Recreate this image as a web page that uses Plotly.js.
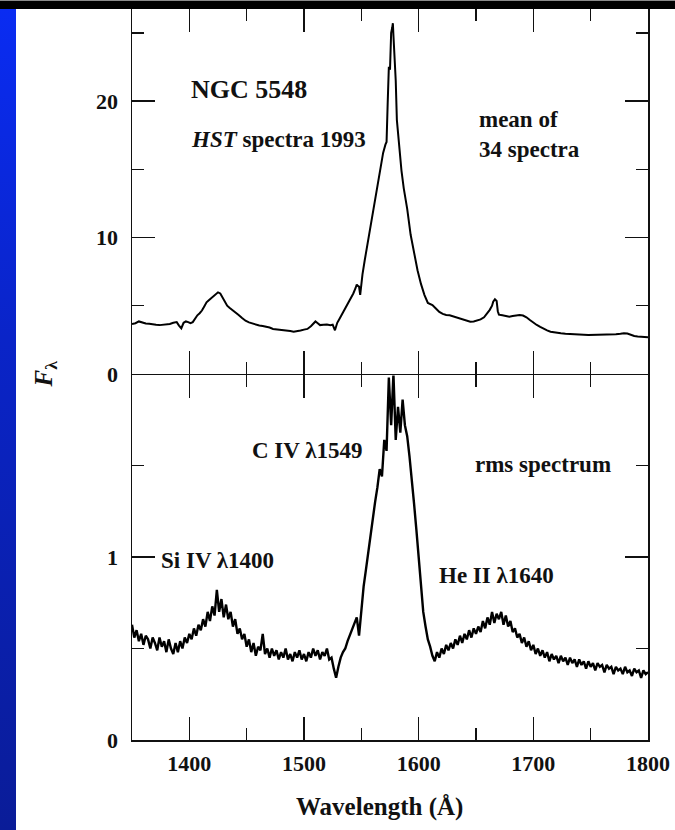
<!DOCTYPE html>
<html>
<head>
<meta charset="utf-8">
<script src="https://cdn.plot.ly/plotly-3.0.1.min.js"></script>
<style>
  html, body { margin: 0; padding: 0; background: #ffffff; }
  #wrap { position: relative; width: 675px; height: 830px; overflow: hidden; }
  #chart { position: absolute; left: 0; top: 0; width: 675px; height: 830px; }
  #topbar { position: absolute; left: 0; top: 0; width: 675px; height: 9px;
            background: #000; border-top: 1px solid #8a8a8a; box-sizing: border-box; z-index: 5; }
  #sidebar { position: absolute; left: 0; top: 9px; width: 16px; height: 821px;
             background: linear-gradient(to bottom, #0a2cf2 0%, #0a24c8 40%, #0a1c98 100%); z-index: 5; }
</style>
</head>
<body>
<div id="wrap">
  <div id="chart"></div>
  <div id="topbar"></div>
  <div id="sidebar"></div>
</div>
<script>
// NGC 5548, HST 1993: mean of 34 spectra (upper panel)
const meanWave = [1350,1353,1356,1359,1362,1365,1368,1371,1374,1377,1380,1383,1386,1389,1391,1393,1395,1397,1399,1401,
  1403,1405,1407,1409,1411,1413,1415,1417,1419,1421,1423,1425,1427,1429,1431,1433,1435,1437,1440,1443,
  1446,1449,1452,1455,1458,1461,1464,1467,1470,1473,1476,1479,1482,1485,1488,1491,1494,1497,1500,1503,
  1506,1508,1510,1512,1514,1517,1520,1523,1525,1527,1529,1531,1533,1535,1537,1539,1541,1543,1545,1546,
  1547,1548,1549,1550,1551,1553,1555,1557,1559,1561,1563,1565,1567,1569,1571,1572,1573,1574,1575,1576,
  1577,1577.5,1578,1579,1580,1581,1583,1585,1587,1590,1593,1596,1599,1602,1605,1608,1610,1612,1615,1618,
  1621,1624,1627,1630,1633,1636,1639,1642,1645,1648,1651,1654,1657,1660,1662,1664,1665,1666.5,1668,1669,
  1670,1673,1676,1679,1682,1685,1688,1691,1694,1697,1700,1703,1706,1709,1712,1715,1718,1721,1724,1728,
  1732,1736,1740,1744,1748,1752,1756,1760,1764,1768,1772,1776,1779,1782,1785,1788,1791,1794,1797,1800];
const meanFlux = [3.66,3.72,3.85,3.75,3.70,3.68,3.62,3.60,3.58,3.60,3.62,3.66,3.75,3.80,3.55,3.35,3.75,3.85,3.80,3.72,
  3.80,4.05,4.30,4.45,4.65,4.95,5.25,5.40,5.55,5.65,5.80,5.98,5.90,5.60,5.25,5.00,4.85,4.70,4.50,4.32,
  4.10,3.90,3.78,3.70,3.62,3.55,3.52,3.48,3.40,3.30,3.28,3.25,3.22,3.20,3.15,3.10,3.12,3.18,3.25,3.30,
  3.50,3.70,3.85,3.72,3.58,3.60,3.62,3.58,3.62,3.20,3.75,4.05,4.35,4.65,4.95,5.25,5.60,5.90,6.30,6.55,
  6.45,6.40,5.80,6.60,7.30,8.35,9.30,10.3,11.3,12.3,13.2,14.2,15.2,16.2,16.8,17.0,19.9,22.5,22.3,25.0,
  25.4,25.7,24.8,23.5,21.5,18.6,16.6,14.9,13.6,12.1,10.2,8.9,7.6,6.6,5.8,5.2,5.15,5.05,4.80,4.55,
  4.40,4.32,4.30,4.22,4.18,4.10,4.00,3.90,3.83,3.85,3.92,4.00,4.15,4.45,4.70,5.00,5.30,5.47,5.35,4.60,
  4.35,4.30,4.25,4.20,4.25,4.30,4.32,4.28,4.15,3.95,3.75,3.59,3.45,3.30,3.20,3.10,3.05,3.00,2.98,2.95,
  2.92,2.90,2.87,2.88,2.86,2.87,2.85,2.88,2.86,2.90,2.92,2.95,2.99,2.97,2.85,2.78,2.75,2.72,2.70,2.69];

// rms spectrum (lower panel), 2 Å sampling
const rmsWave = [
  1350,1352,1354,1356,1358,1360,1362,1364,1366,1368,
  1370,1372,1374,1376,1378,1380,1382,1384,1386,1388,
  1390,1392,1394,1396,1398,1400,1402,1404,1406,1408,
  1410,1412,1414,1416,1418,1420,1422,1424,1426,1428,
  1430,1432,1434,1436,1438,1440,1442,1444,1446,1448,
  1450,1452,1454,1456,1458,1460,1462,1464,1466,1468,
  1470,1472,1474,1476,1478,1480,1482,1484,1486,1488,
  1490,1492,1494,1496,1498,1500,1502,1504,1506,1508,
  1510,1512,1514,1516,1518,1520,1522,1524,1526,1528,
  1530,1532,1534,1536,1538,1540,1542,1544,1546,1548,
  1550,1552,1554,1556,1558,1560,1562,1564,1566,1568,
  1570,1572,1574,1576,1578,1580,1582,1584,1586,1588,
  1590,1592,1594,1596,1598,1600,1602,1604,1606,1608,
  1610,1612,1614,1616,1618,1620,1622,1624,1626,1628,
  1630,1632,1634,1636,1638,1640,1642,1644,1646,1648,
  1650,1652,1654,1656,1658,1660,1662,1664,1666,1668,
  1670,1672,1674,1676,1678,1680,1682,1684,1686,1688,
  1690,1692,1694,1696,1698,1700,1702,1704,1706,1708,
  1710,1712,1714,1716,1718,1720,1722,1724,1726,1728,
  1730,1732,1734,1736,1738,1740,1742,1744,1746,1748,
  1750,1752,1754,1756,1758,1760,1762,1764,1766,1768,
  1770,1772,1774,1776,1778,1780,1782,1784,1786,1788,
  1790,1792,1794,1796,1798,1800];
const rmsFlux = [
  0.63,0.56,0.60,0.54,0.58,0.52,0.57,0.55,0.50,0.56,
  0.53,0.49,0.56,0.51,0.54,0.48,0.55,0.50,0.47,0.53,
  0.48,0.54,0.50,0.56,0.53,0.58,0.55,0.61,0.57,0.63,
  0.60,0.66,0.62,0.70,0.65,0.73,0.68,0.82,0.70,0.77,
  0.67,0.74,0.66,0.70,0.62,0.66,0.58,0.61,0.55,0.58,
  0.51,0.55,0.48,0.53,0.46,0.51,0.49,0.58,0.47,0.50,
  0.45,0.50,0.46,0.49,0.44,0.48,0.45,0.50,0.44,0.47,
  0.43,0.48,0.45,0.49,0.44,0.47,0.43,0.48,0.45,0.50,
  0.46,0.49,0.44,0.48,0.46,0.50,0.44,0.45,0.39,0.34,
  0.40,0.45,0.48,0.50,0.54,0.57,0.60,0.63,0.67,0.57,
  0.72,0.84,0.93,1.03,1.12,1.22,1.30,1.38,1.48,1.44,
  1.64,1.58,1.98,1.72,2.00,1.64,1.82,1.68,1.86,1.72,
  1.66,1.55,1.43,1.29,1.15,0.99,0.85,0.70,0.62,0.55,
  0.51,0.46,0.43,0.48,0.45,0.50,0.47,0.52,0.49,0.53,
  0.50,0.55,0.52,0.57,0.53,0.58,0.55,0.60,0.56,0.61,
  0.58,0.62,0.59,0.65,0.61,0.67,0.63,0.70,0.64,0.69,
  0.66,0.70,0.63,0.68,0.62,0.65,0.59,0.61,0.56,0.58,
  0.53,0.56,0.51,0.54,0.49,0.52,0.47,0.50,0.46,0.49,
  0.45,0.48,0.43,0.47,0.44,0.46,0.42,0.46,0.43,0.45,
  0.41,0.45,0.42,0.44,0.40,0.44,0.41,0.43,0.39,0.43,
  0.40,0.42,0.38,0.42,0.40,0.41,0.37,0.41,0.39,0.40,
  0.36,0.40,0.38,0.39,0.36,0.40,0.37,0.38,0.35,0.39,
  0.37,0.38,0.34,0.38,0.36,0.37];

// axis ticks
const waveTicks = [1400, 1500, 1600, 1700, 1800];
const waveMinor = [1450, 1550, 1650, 1750];
const meanTicks = [0, 10, 20];
const meanMinor = [5, 15, 25];
const rmsTicks = [0, 1];
const rmsMinor = [0.5, 1.5];

const serif = 'Liberation Serif, Times New Roman, serif';
const ink = '#111111';

function tickFont(size) { return {family: serif, size: size, color: ink, weight: 'bold'}; }

function axisBase(tv, mv) {
  return {
    tickmode: 'array', tickvals: tv,
    ticks: 'inside', ticklen: 23, tickwidth: 1.5, tickcolor: ink,
    minor: {tickmode: 'array', tickvals: mv, ticks: 'inside', ticklen: 12, tickwidth: 1.5, tickcolor: ink, showgrid: false},
    showline: true, linecolor: ink, linewidth: 1.5, mirror: 'ticks',
    showgrid: false, zeroline: false,
    tickfont: tickFont(22), ticklabelstandoff: 8
  };
}

const traces = [
  {x: meanWave, y: meanFlux, xaxis: 'x2', yaxis: 'y2', type: 'scatter', mode: 'lines',
   line: {color: '#000', width: 2}, hoverinfo: 'skip'},
  {x: rmsWave, y: rmsFlux, xaxis: 'x', yaxis: 'y', type: 'scatter', mode: 'lines',
   line: {color: '#000', width: 2.4}, hoverinfo: 'skip'}
];

// the two panels share one boundary line: the lower frame is nudged so both edges coincide
const lowerTop = 0.4987;
const upperBottom = 0.5007;

function note(text, x, y, yref, size) {
  return {text: text, x: x, y: y, xref: 'x', yref: yref, xanchor: 'left', yanchor: 'middle',
          showarrow: false, font: {family: serif, size: size || 23, color: ink, weight: 'bold'}};
}

const layout = {
  width: 675, height: 830,
  margin: {l: 132, r: 27, t: 9, b: 90},
  paper_bgcolor: '#ffffff', plot_bgcolor: '#ffffff',
  showlegend: false,
  xaxis: Object.assign(axisBase(waveTicks, waveMinor), {range: [1350, 1800], anchor: 'y', ticklabelstandoff: 3}),
  xaxis2: Object.assign(axisBase(waveTicks, waveMinor), {range: [1350, 1800], anchor: 'y2', matches: 'x', showticklabels: false}),
  yaxis: Object.assign(axisBase(rmsTicks, rmsMinor), {range: [0, 1.992], domain: [0, lowerTop], anchor: 'x'}),
  yaxis2: Object.assign(axisBase(meanTicks, meanMinor), {range: [0, 26.74], domain: [upperBottom, 1], anchor: 'x2'}),
  annotations: [
    note('NGC 5548', 1400, 20.83, 'y2', 26),
    note('<i>HST</i> spectra 1993', 1400, 17.2, 'y2'),
    note('mean of', 1651, 18.67, 'y2'),
    note('34 spectra', 1651, 16.47, 'y2'),
    note('C IV λ1549', 1453, 1.584, 'y'),
    note('Si IV λ1400', 1373.5, 0.9825, 'y'),
    note('rms spectrum', 1647.4, 1.507, 'y'),
    note('He II λ1640', 1616, 0.90, 'y'),
    {text: 'Wavelength (Å)', xref: 'paper', yref: 'paper', x: 0.4806, y: -0.0911,
     xanchor: 'center', yanchor: 'middle', showarrow: false,
     font: {family: serif, size: 25, color: ink, weight: 'bold'}},
    {text: '<i>F</i><sub>λ</sub>', xref: 'paper', yref: 'paper', x: -0.1686, y: 0.5,
     xanchor: 'center', yanchor: 'middle', textangle: -90, showarrow: false,
     font: {family: serif, size: 25, color: ink, weight: 'bold'}}
  ]
};

Plotly.newPlot('chart', traces, layout, {staticPlot: true, displayModeBar: false});
</script>
</body>
</html>
